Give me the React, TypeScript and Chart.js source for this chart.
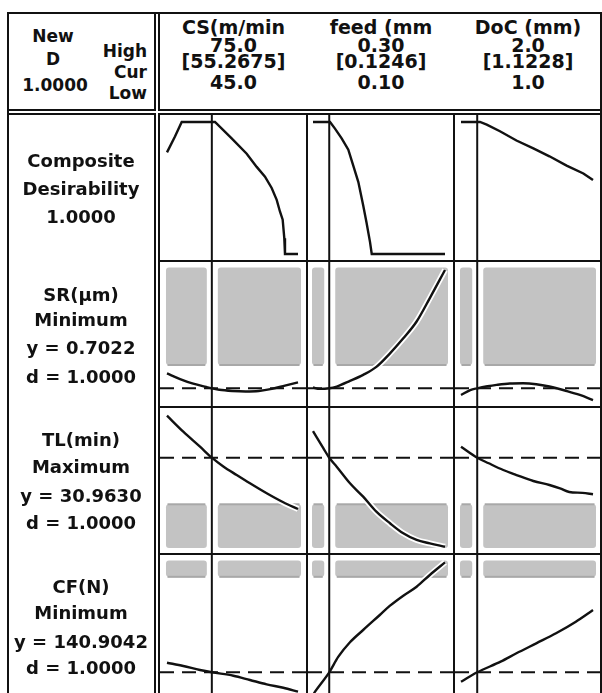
import React, { useEffect, useRef } from "react";
import { Chart, registerables } from "chart.js";

Chart.register(...registerables);

// ---------------- data ----------------
// factors (columns)
const FACTOR_NAMES = ["CS(m/min", "feed (mm", "DoC (mm)"];
const FACTOR_LOW = [45.0, 0.1, 1.0];
const FACTOR_HIGH = [75.0, 0.3, 2.0];
const FACTOR_CUR = [55.2675, 0.1246, 1.1228];
const HIGH_LABELS = ["75.0", "0.30", "2.0"];
const CUR_LABELS = ["[55.2675]", "[0.1246]", "[1.1228]"];
const LOW_LABELS = ["45.0", "0.10", "1.0"];

// responses (rows 2..4)
const RESPONSE_NAMES = ["SR(µm)", "TL(min)", "CF(N)"];
const RESPONSE_GOALS = ["Minimum", "Maximum", "Minimum"];
const RESPONSE_Y = [0.7022, 30.963, 140.9042];
const RESPONSE_D = [1.0, 1.0, 1.0];
const RESPONSE_LIMIT = [1.2, 20, 300]; // edge of the undesirable (grey) region
const RESPONSE_SIDE = ["above", "below", "above"];
const COMPOSITE_D = 1.0;

// composite desirability curves
const D_CS_X = [45, 46.83, 48.37, 55.99, 59.81, 63.25, 65.54, 67.44, 68.97, 70.12, 70.88, 71.49, 71.86, 72.02, 75];
const D_CS_Y = [0.77, 0.89, 1.0, 1.0, 0.876, 0.76, 0.66, 0.586, 0.5, 0.41, 0.32, 0.26, 0.12, 0.0, 0.0];
const D_FEED_X = [0.1, 0.1258, 0.1333, 0.1434, 0.1535, 0.161, 0.1687, 0.176, 0.181, 0.1864, 0.189, 0.3];
const D_FEED_Y = [1.0, 1.0, 0.95, 0.876, 0.79, 0.67, 0.545, 0.37, 0.24, 0.09, 0.0, 0.0];
const D_DOC_X = [1.0, 1.144, 1.195, 1.295, 1.42, 1.548, 1.67, 1.8, 1.927, 2.0];
const D_DOC_Y = [1.0, 1.0, 0.98, 0.93, 0.86, 0.8, 0.74, 0.67, 0.61, 0.56];

// SR curves
const SR_CS_X = [45, 48, 51, 54, 55.27, 57, 60, 63, 66, 69, 72, 75];
const SR_CS_Y = [1.02, 0.9, 0.8, 0.73, 0.7022, 0.67, 0.645, 0.635, 0.645, 0.69, 0.76, 0.83];
const SR_FEED_X = [0.1, 0.11, 0.1246, 0.136, 0.156, 0.176, 0.196, 0.2167, 0.2368, 0.257, 0.277, 0.3];
const SR_FEED_Y = [0.72, 0.69, 0.7022, 0.74, 0.86, 0.99, 1.16, 1.45, 1.77, 2.13, 2.63, 3.23];
const SR_DOC_X = [1.0, 1.07, 1.1228, 1.2, 1.27, 1.37, 1.47, 1.57, 1.67, 1.8, 1.9, 2.0];
const SR_DOC_Y = [0.56, 0.665, 0.7022, 0.745, 0.775, 0.805, 0.81, 0.79, 0.74, 0.645, 0.56, 0.45];

// TL curves
const TL_CS_X = [45, 48.73, 52.56, 55.27, 57.9, 60.96, 64.0, 67.83, 71.63, 75];
const TL_CS_Y = [40.85, 37.08, 33.55, 30.963, 28.9, 26.89, 24.94, 22.59, 20.47, 18.89];
const TL_FEED_X = [0.1, 0.1156, 0.1246, 0.1359, 0.156, 0.176, 0.196, 0.2167, 0.2368, 0.257, 0.277, 0.3];
const TL_FEED_Y = [37.2, 33.2, 30.963, 28.85, 24.94, 21.79, 18.26, 15.53, 13.17, 11.6, 10.82, 10.02];
const TL_DOC_X = [1.0, 1.1228, 1.21, 1.32, 1.42, 1.548, 1.67, 1.75, 1.82, 1.92, 2.0];
const TL_DOC_Y = [33.55, 30.963, 29.65, 28.07, 26.89, 25.48, 24.54, 23.76, 22.9, 22.7, 22.35];

// CF curves
const CF_CS_X = [45, 48.73, 52.56, 55.27, 60.19, 64.0, 67.83, 71.63, 75];
const CF_CS_Y = [156.9, 151.4, 144.7, 140.9, 135.2, 128.1, 120.9, 115.2, 108.6];
const CF_FEED_X = [0.1, 0.1031, 0.1246, 0.1384, 0.156, 0.176, 0.2012, 0.2167, 0.2368, 0.257, 0.277, 0.3];
const CF_FEED_Y = [103, 108.6, 140.9, 166.9, 190.9, 211.4, 236.4, 251.9, 268.6, 283.6, 303.1, 324.2];
const CF_DOC_X = [1.0, 1.1228, 1.3, 1.42, 1.57, 1.72, 1.87, 2.0];
const CF_DOC_Y = [125.2, 140.9, 158.6, 172.6, 189.2, 205.9, 225.2, 244.7];

// ---------------- layout / style ----------------
const COL_EDGES = [159, 307, 454, 601];
const ROW_EDGES = [114, 261, 407, 554, 700];
const COL_X_RANGE = [
  [43.4, 76.83],
  [0.09242, 0.31212],
  [0.9545, 2.053],
];
const ROW_Y_RANGE = [
  [-0.0455, 1.053],
  [0.324, 3.401],
  [8.54, 42.66],
  [96.4, 336.4],
];
const INK = "#111";
const FONT = '"DejaVu Sans", "Noto Sans", sans-serif';

const greyBandPlugin = {
  id: "greyBand",
  beforeDatasetsDraw(chart: any, _args: any, opts: any) {
    if (!opts || opts.limit == null) return;
    const { ctx, chartArea, scales } = chart;
    const xs = scales.x;
    const ys = scales.y;
    const yLim = ys.getPixelForValue(opts.limit);
    const top = opts.side === "above" ? chartArea.top + 5.5 : yLim;
    const bottom = opts.side === "above" ? yLim : chartArea.bottom - 5;
    const pLow = xs.getPixelForValue(opts.low);
    const pCur = xs.getPixelForValue(opts.cur);
    const pHigh = xs.getPixelForValue(opts.high);
    const pieces = [
      [pLow - 1, pCur - 5],
      [pCur + 6, pHigh + 3],
    ];
    ctx.save();
    for (const [a, b] of pieces) {
      ctx.fillStyle = "#c3c3c3";
      ctx.beginPath();
      if (ctx.roundRect) ctx.roundRect(a, top, b - a, bottom - top, 3);
      else ctx.rect(a, top, b - a, bottom - top);
      ctx.fill();
      ctx.fillStyle = "#a8a8a8";
      ctx.fillRect(a + 1.5, yLim - 1, b - a - 3, 2);
    }
    ctx.restore();
  },
};

type PanelProps = {
  xs: number[];
  ys: number[];
  col: number;
  row: number;
  refY: number | null;
  band: any;
  smooth: boolean;
};

function Panel({ xs, ys, col, row, refY, band, smooth }: PanelProps) {
  const ref = useRef<HTMLCanvasElement>(null);
  const left = COL_EDGES[col] + 1;
  const top = ROW_EDGES[row] + 1;
  const w = COL_EDGES[col + 1] - COL_EDGES[col] - 2;
  const h = ROW_EDGES[row + 1] - ROW_EDGES[row] - 2;
  useEffect(() => {
    if (!ref.current) return;
    const [xMin, xMax] = COL_X_RANGE[col];
    const [yMin, yMax] = ROW_Y_RANGE[row];
    const cur = FACTOR_CUR[col];
    const curve = xs.map((x, i) => ({ x, y: ys[i] }));
    const curveStyle: any = smooth
      ? { cubicInterpolationMode: "monotone" }
      : { tension: 0 };
    const datasets: any[] = [
      { data: curve, borderColor: "#ffffff", borderWidth: 6, order: 5, ...curveStyle },
      {
        data: [
          { x: cur, y: yMin },
          { x: cur, y: yMax },
        ],
        borderColor: INK,
        borderWidth: 2,
        order: 4,
      },
    ];
    if (refY != null) {
      datasets.push({
        data: [
          { x: xMin, y: refY },
          { x: xMax, y: refY },
        ],
        borderColor: INK,
        borderWidth: 2,
        borderDash: [14, 8],
        order: 3,
      });
    }
    datasets.push({ data: curve, borderColor: INK, borderWidth: 2.4, order: 1, ...curveStyle });
    const chart = new Chart(ref.current, {
      type: "line",
      data: { datasets },
      options: {
        animation: false,
        responsive: false,
        maintainAspectRatio: false,
        events: [],
        layout: { padding: 0 },
        elements: { point: { radius: 0 }, line: { fill: false } },
        scales: {
          x: { type: "linear", min: xMin, max: xMax, display: false },
          y: { type: "linear", min: yMin, max: yMax, display: false },
        },
        plugins: {
          legend: { display: false },
          tooltip: { enabled: false },
          greyBand: band || { limit: null },
        } as any,
      },
      plugins: [greyBandPlugin as any],
    } as any);
    return () => chart.destroy();
  }, []);
  return (
    <canvas
      ref={ref}
      width={w}
      height={h}
      style={{ position: "absolute", left, top, width: w, height: h }}
    />
  );
}

function Txt({ x, y, text, size, align = "center" }: { x: number; y: number; text: string; size: number; align?: string }) {
  const style: any = {
    position: "absolute",
    top: y - 0.48 * size,
    fontFamily: FONT,
    fontWeight: "bold",
    fontSize: size,
    lineHeight: `${size}px`,
    whiteSpace: "nowrap",
    color: INK,
  };
  if (align === "center") {
    style.left = x - 150;
    style.width = 300;
    style.textAlign = "center";
  } else {
    style.left = x - 300;
    style.width = 300;
    style.textAlign = "right";
  }
  return <div style={style}>{text}</div>;
}

const LINES: number[][] = [
  [7, 12, 595, 2],
  [7, 12, 2, 681],
  [600, 12, 2, 681],
  [154, 12, 2, 99],
  [154, 113, 2, 580],
  [158, 12, 2, 99],
  [158, 113, 2, 580],
  [7, 109, 149, 2],
  [158, 109, 444, 2],
  [7, 113, 149, 2],
  [158, 113, 444, 2],
  [306, 113, 2, 580],
  [453, 113, 2, 580],
  [158, 260, 444, 2],
  [158, 406, 444, 2],
  [158, 553, 444, 2],
];

export default function App() {
  const curves = [
    [
      [D_CS_X, D_CS_Y],
      [D_FEED_X, D_FEED_Y],
      [D_DOC_X, D_DOC_Y],
    ],
    [
      [SR_CS_X, SR_CS_Y],
      [SR_FEED_X, SR_FEED_Y],
      [SR_DOC_X, SR_DOC_Y],
    ],
    [
      [TL_CS_X, TL_CS_Y],
      [TL_FEED_X, TL_FEED_Y],
      [TL_DOC_X, TL_DOC_Y],
    ],
    [
      [CF_CS_X, CF_CS_Y],
      [CF_FEED_X, CF_FEED_Y],
      [CF_DOC_X, CF_DOC_Y],
    ],
  ];
  const colCenters = [233.5, 381, 528];
  const headerY = [27.5, 45.5, 61.5, 82.5];
  const labelRowsY = [
    [160.5, 189, 216.5],
    [295, 320, 348, 376.5],
    [440, 466.5, 496, 522.5],
    [586.5, 613, 641.5, 668],
  ];
  const panels: any[] = [];
  for (let r = 0; r < 4; r++) {
    for (let c = 0; c < 3; c++) {
      const [xs, ys] = curves[r][c];
      const band =
        r === 0
          ? null
          : {
              limit: RESPONSE_LIMIT[r - 1],
              side: RESPONSE_SIDE[r - 1],
              low: FACTOR_LOW[c],
              high: FACTOR_HIGH[c],
              cur: FACTOR_CUR[c],
            };
      panels.push(
        <Panel
          key={`${r}-${c}`}
          xs={xs}
          ys={ys}
          col={c}
          row={r}
          refY={r === 0 ? null : RESPONSE_Y[r - 1]}
          band={band}
          smooth={r !== 0}
        />
      );
    }
  }
  const texts: any[] = [];
  // top-left header
  texts.push(<Txt key="new" x={53} y={35.8} text="New" size={17} />);
  texts.push(<Txt key="dd" x={53} y={59} text="D" size={17} />);
  texts.push(<Txt key="dval" x={55} y={85} text={COMPOSITE_D.toFixed(4)} size={17} />);
  texts.push(<Txt key="hi" x={147} y={51.3} text="High" size={17} align="right" />);
  texts.push(<Txt key="cu" x={147} y={72} text="Cur" size={17} align="right" />);
  texts.push(<Txt key="lo" x={147} y={93} text="Low" size={17} align="right" />);
  // factor header
  for (let c = 0; c < 3; c++) {
    const lines = [FACTOR_NAMES[c], HIGH_LABELS[c], CUR_LABELS[c], LOW_LABELS[c]];
    lines.forEach((t, i) =>
      texts.push(<Txt key={`h${c}-${i}`} x={colCenters[c]} y={headerY[i]} text={t} size={19} />)
    );
  }
  // row labels
  const compLines = ["Composite", "Desirability", COMPOSITE_D.toFixed(4)];
  compLines.forEach((t, i) => texts.push(<Txt key={`c${i}`} x={81} y={labelRowsY[0][i]} text={t} size={18} />));
  for (let r = 0; r < 3; r++) {
    const lines = [
      RESPONSE_NAMES[r],
      RESPONSE_GOALS[r],
      `y = ${RESPONSE_Y[r].toFixed(4)}`,
      `d = ${RESPONSE_D[r].toFixed(4)}`,
    ];
    lines.forEach((t, i) =>
      texts.push(<Txt key={`r${r}-${i}`} x={81} y={labelRowsY[r + 1][i]} text={t} size={18} />)
    );
  }
  return (
    <div
      style={{
        position: "absolute",
        left: 0,
        top: 0,
        width: 602,
        height: 693,
        overflow: "hidden",
        background: "#fff",
      }}
    >
      {panels}
      {LINES.map(([x, y, w, h], i) => (
        <div key={`l${i}`} style={{ position: "absolute", left: x, top: y, width: w, height: h, background: INK }} />
      ))}
      {texts}
    </div>
  );
}
